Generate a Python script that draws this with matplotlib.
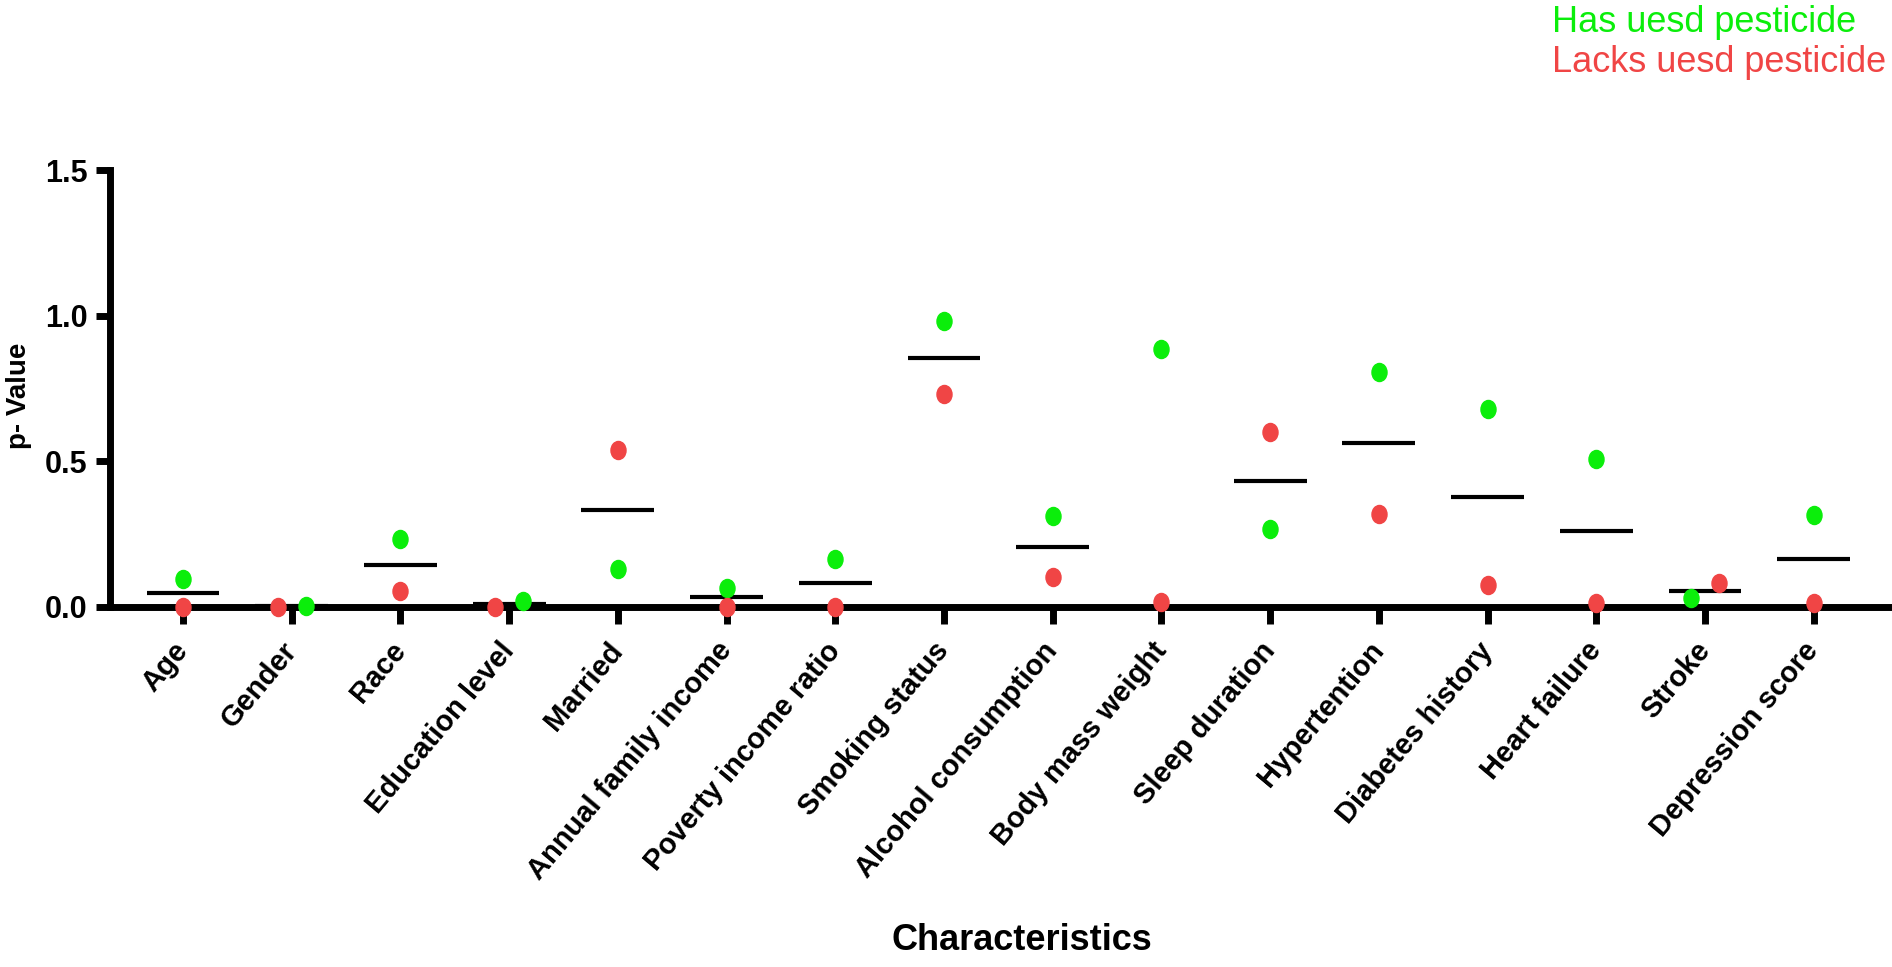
import numpy as np
import matplotlib
matplotlib.use('Agg')
import matplotlib.pyplot as plt
from matplotlib.path import Path
from matplotlib.transforms import Affine2D

plt.rcParams['font.family'] = ['Liberation Sans', 'DejaVu Sans']

# 数据：各特征在两组中的 p 值
categories = ['Age', 'Gender', 'Race', 'Education level', 'Married',
              'Annual family income', 'Poverty income ratio', 'Smoking status',
              'Alcohol consumption', 'Body mass weight', 'Sleep duration',
              'Hypertention', 'Diabetes history', 'Heart failure', 'Stroke',
              'Depression score']
has_used = [0.096, 0.005, 0.234, 0.021, 0.130, 0.066, 0.165, 0.980,
            0.314, 0.887, 0.267, 0.808, 0.680, 0.508, 0.031, 0.316]
lacks_used = [0.000, 0.000, 0.055, 0.000, 0.538, 0.000, 0.000, 0.732,
              0.103, 0.017, 0.599, 0.320, 0.076, 0.014, 0.082, 0.014]
# 均值横线（Body mass weight 原图无横线）
mean_line = [0.048, 0.003, 0.145, 0.010, 0.334, 0.033, 0.082, 0.856,
             0.207, np.nan, 0.433, 0.564, 0.378, 0.261, 0.055, 0.165]
yticks = [0.0, 0.5, 1.0, 1.5]

GREEN = '#0BEE0B'
RED = '#F04545'

# 重叠的点左右错开 (has, lacks)
dodge = {'Gender': (0.13, -0.13), 'Education level': (0.13, -0.13),
         'Stroke': (-0.13, 0.13)}

# 椭圆形点（原图点略高于宽）
ellipse = Affine2D().scale(15 / 18, 1.0).transform_path(Path.unit_circle())

fig = plt.figure(figsize=(18.92, 9.67), dpi=100)
ax = fig.add_axes([110 / 1892, 360 / 967, 1782 / 1892, 437 / 967])

x = np.arange(len(categories))
dx_has = np.array([dodge.get(c, (0, 0))[0] for c in categories])
dx_lacks = np.array([dodge.get(c, (0, 0))[1] for c in categories])

ax.hlines(mean_line, x - 0.335, x + 0.335, colors='black', linewidth=3, zorder=3)
ax.plot(x + dx_has, has_used, linestyle='none', marker=ellipse, markersize=13,
        color=GREEN, zorder=5, clip_on=False)
ax.plot(x + dx_lacks, lacks_used, linestyle='none', marker=ellipse, markersize=13,
        color=RED, zorder=5, clip_on=False)

ax.set_xlim(-0.672, 15.72)
ax.set_ylim(0, 1.5)
ax.set_yticks(yticks)
ax.set_yticklabels([f'{v:.1f}' for v in yticks], fontsize=22, fontweight='bold')
ax.set_xticks(x)
ax.set_xticklabels(categories, fontsize=21, fontweight='bold', rotation=50,
                   ha='right', va='center', rotation_mode='anchor')

for side in ['top', 'right']:
    ax.spines[side].set_visible(False)
for side in ['left', 'bottom']:
    ax.spines[side].set_linewidth(5)
    ax.spines[side].set_capstyle('projecting')
ax.tick_params(axis='y', length=10, width=5, pad=6)
ax.tick_params(axis='x', length=12, width=5, pad=16)

fig.text(19 / 1892, 1 - 396 / 967, 'p- Value', rotation=90, ha='center',
         va='center', fontsize=20, fontweight='bold')
fig.text(1022 / 1892, 1 - 940 / 967, 'Characteristics', ha='center',
         va='center', fontsize=26, fontweight='bold')

fig.text(1552 / 1892, 1 - 32 / 967, 'Has uesd pesticide', color=GREEN,
         fontsize=26, va='baseline', ha='left')
fig.text(1552 / 1892, 1 - 72 / 967, 'Lacks uesd pesticide', color=RED,
         fontsize=26, va='baseline', ha='left')

fig.savefig('out.png', dpi=100)
